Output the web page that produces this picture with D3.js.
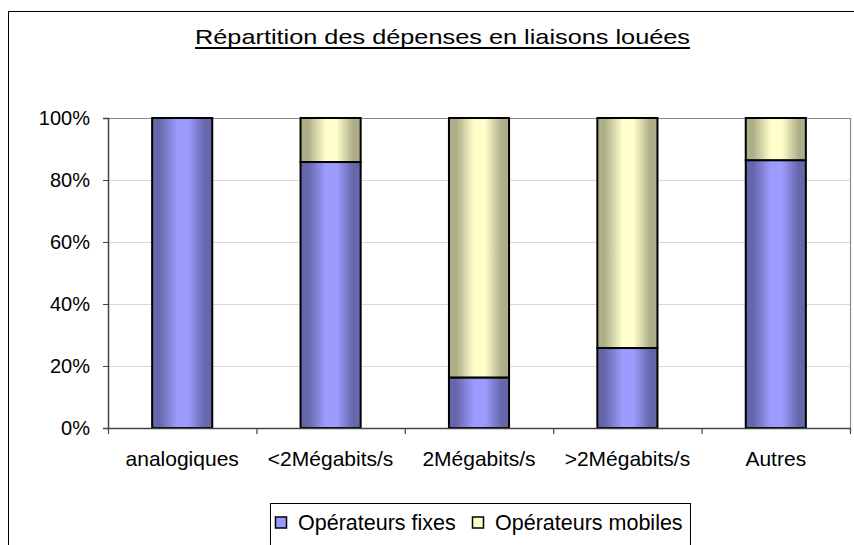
<!DOCTYPE html>
<html>
<head>
<meta charset="utf-8">
<script src="https://cdn.jsdelivr.net/npm/d3@7/dist/d3.min.js"></script>
<style>
  html, body { margin: 0; padding: 0; background: #fff; }
  svg { display: block; font-family: "Liberation Sans", Arial, sans-serif; }
</style>
</head>
<body>
<svg id="chart" width="854" height="545"></svg>
<script>
// Stacked 100% bars: share of spending per leased-line type
const categories = ["analogiques", "<2Mégabits/s", "2Mégabits/s", ">2Mégabits/s", "Autres"];
const fixes   = [100, 85.8, 16.3, 25.8, 86.4];
const mobiles = [0, 14.2, 83.7, 74.2, 13.6];
const seriesNames = ["Opérateurs fixes", "Opérateurs mobiles"];
const yTicks = [0, 20, 40, 60, 80, 100];
const title = "Répartition des dépenses en liaisons louées";

const svg = d3.select("#chart");
const defs = svg.append("defs");

// Horizontal shading for the bar faces
function addGradient(id, dark, light) {
  const g = defs.append("linearGradient").attr("id", id)
    .attr("x1", "0%").attr("x2", "100%").attr("y1", "0%").attr("y2", "0%");
  g.append("stop").attr("offset", "0%").attr("stop-color", dark);
  g.append("stop").attr("offset", "12%").attr("stop-color", dark);
  g.append("stop").attr("offset", "42%").attr("stop-color", light);
  g.append("stop").attr("offset", "60%").attr("stop-color", light);
  g.append("stop").attr("offset", "88%").attr("stop-color", dark);
  g.append("stop").attr("offset", "100%").attr("stop-color", dark);
}
addGradient("gFixes", "#6666aa", "#9c9cff");
addGradient("gMobiles", "#adad88", "#ffffcc");
const fills = ["url(#gFixes)", "url(#gMobiles)"];
const swatch = ["#9999ff", "#ffffcc"];

// Outer chart frame
svg.append("rect").attr("x", 8.5).attr("y", 11.5).attr("width", 860).attr("height", 560)
  .attr("fill", "none").attr("stroke", "#000").attr("stroke-width", 1);

// Title
svg.append("text")
  .attr("x", 442.5).attr("y", 44)
  .attr("text-anchor", "middle")
  .attr("font-size", 21)
  .attr("textLength", 495).attr("lengthAdjust", "spacingAndGlyphs")
  .attr("fill", "#000")
  .text(title);
svg.append("line").attr("x1", 195).attr("x2", 690).attr("y1", 48).attr("y2", 48)
  .attr("stroke", "#000").attr("stroke-width", 1.8);

// Scales
const plotLeft = 108, plotRight = 850, plotTop = 118, plotBottom = 428;
const x = d3.scaleBand().domain(categories).range([plotLeft, plotRight])
  .paddingInner(0.595).paddingOuter(0.2975);
const y = d3.scaleLinear().domain([0, 100]).range([plotBottom, plotTop]);

// Gridlines
svg.append("g").selectAll("line").data(yTicks.filter(t => t > 0 && t < 100)).join("line")
  .attr("x1", plotLeft).attr("x2", plotRight)
  .attr("y1", d => y(d) + 0.5).attr("y2", d => y(d) + 0.5)
  .attr("stroke", "#d8d8d8").attr("stroke-width", 1);

// Plot frame top/right
svg.append("path")
  .attr("d", `M${plotLeft},${plotTop + 0.5}H${plotRight + 0.5}V${plotBottom}`)
  .attr("fill", "none").attr("stroke", "#8a8a8a").attr("stroke-width", 1.2);

// Stacked bars
const rows = categories.map((c, i) => ({ cat: c, fixes: fixes[i], mobiles: mobiles[i] }));
const stack = d3.stack().keys(["fixes", "mobiles"])(rows);
stack.forEach((layer, si) => {
  svg.append("g").selectAll("rect").data(layer.filter(d => d[1] - d[0] > 0)).join("rect")
    .attr("x", d => x(d.data.cat))
    .attr("width", x.bandwidth())
    .attr("y", d => y(d[1]))
    .attr("height", d => y(d[0]) - y(d[1]))
    .attr("fill", fills[si])
    .attr("stroke", "#000").attr("stroke-width", 2);
});

// Y axis
const yAxis = svg.append("g").attr("transform", `translate(${plotLeft},0)`)
  .call(d3.axisLeft(y).tickValues(yTicks).tickFormat(d => d + "%").tickSize(5).tickPadding(13));
yAxis.select(".domain").attr("stroke", "#444").attr("stroke-width", 1.5);
yAxis.selectAll(".tick line").attr("stroke", "#444");
yAxis.selectAll("text").attr("font-size", 20).attr("fill", "#000")
  .attr("font-family", "'Liberation Sans', Arial, sans-serif");

// X axis: ticks at category boundaries, labels centred under bars
const xAxisG = svg.append("g");
xAxisG.append("line").attr("x1", plotLeft).attr("x2", plotRight + 1)
  .attr("y1", plotBottom + 0.5).attr("y2", plotBottom + 0.5)
  .attr("stroke", "#444").attr("stroke-width", 1.5);
const step = x.step();
const boundaries = categories.map(c => x(c) - x.paddingOuter() * step).concat([plotRight]);
xAxisG.selectAll("line.tk").data(boundaries).join("line").attr("class", "tk")
  .attr("x1", d => d + 0.5).attr("x2", d => d + 0.5)
  .attr("y1", plotBottom).attr("y2", plotBottom + 6)
  .attr("stroke", "#444").attr("stroke-width", 1.2);
xAxisG.selectAll("text").data(categories).join("text")
  .attr("x", d => x(d) + x.bandwidth() / 2)
  .attr("y", 466)
  .attr("text-anchor", "middle")
  .attr("font-size", 21).attr("fill", "#000")
  .text(d => d);

// Legend
const lg = svg.append("g");
lg.append("rect").attr("x", 270.5).attr("y", 503.5).attr("width", 420).attr("height", 60)
  .attr("fill", "#fff").attr("stroke", "#000").attr("stroke-width", 1);
const legendX = [275, 472];
seriesNames.forEach((name, i) => {
  lg.append("rect").attr("x", legendX[i] + 0.5).attr("y", 517).attr("width", 11).attr("height", 11)
    .attr("fill", swatch[i]).attr("stroke", "#000").attr("stroke-width", 1.5);
  lg.append("text").attr("x", legendX[i] + 23).attr("y", 530)
    .attr("font-size", 21.5).attr("fill", "#000").text(name);
});
</script>
</body>
</html>
